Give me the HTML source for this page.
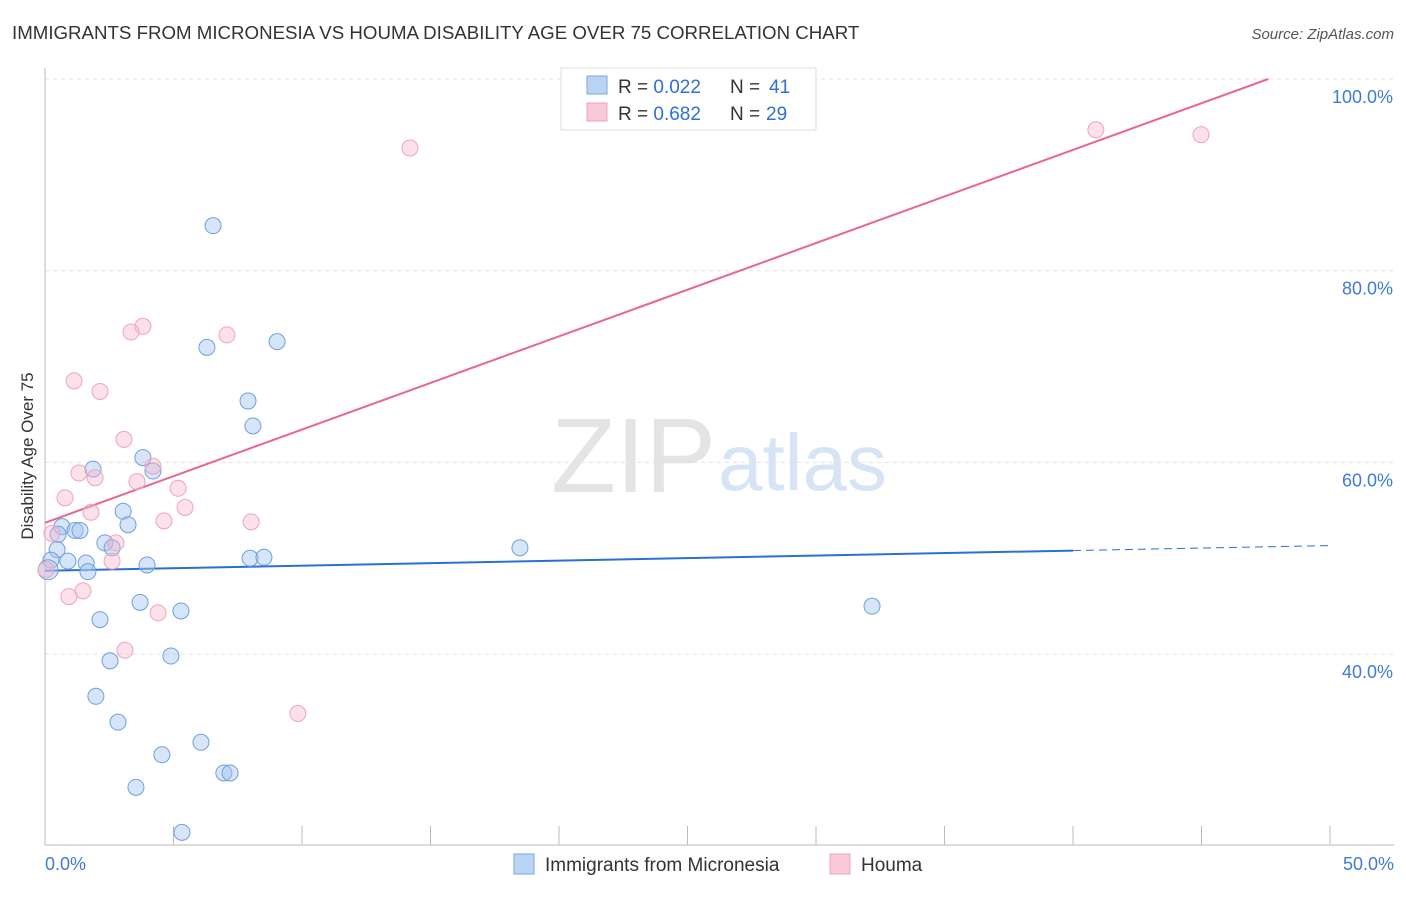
<!DOCTYPE html>
<html><head><meta charset="utf-8">
<style>
body{margin:0;background:#fff;font-family:"Liberation Sans",sans-serif;}
svg text{font-family:"Liberation Sans",sans-serif;}
</style></head>
<body>
<svg id="chart" width="1406" height="892" xmlns="http://www.w3.org/2000/svg">
<text x="12" y="39" font-size="18.7" fill="#333">IMMIGRANTS FROM MICRONESIA VS HOUMA DISABILITY AGE OVER 75 CORRELATION CHART</text>
<text x="1394" y="39" font-size="15" fill="#555" font-style="italic" text-anchor="end">Source: ZipAtlas.com</text>
<text x="716" y="492" font-size="106" fill="#e4e4e4" text-anchor="end" font-family="Liberation Serif">ZIP</text>
<text x="718" y="490" font-size="80" fill="#d6e4f5">atlas</text>
<g id="grid"></g>
<g id="axes"></g>
<g id="lines"></g>
<g id="dots"></g>
<text transform="translate(33,456) rotate(-90)" font-size="17" fill="#333" text-anchor="middle">Disability Age Over 75</text>
<g>
<rect x="561" y="68" width="255" height="62" fill="#fff" stroke="#ddd"/>
<rect x="587" y="76" width="20" height="18" fill="#b9d3f3" stroke="#7aa7e2"/>
<rect x="587" y="103" width="20" height="18" fill="#fac9d8" stroke="#f0a0bb"/>
<text x="618" y="93" font-size="19" fill="#333">R = <tspan fill="#2f6fd6">0.022</tspan></text>
<text x="730" y="93" font-size="19" fill="#333">N = <tspan x="769" fill="#2f6fd6">41</tspan></text>
<text x="618" y="120" font-size="19" fill="#333">R = <tspan fill="#2f6fd6">0.682</tspan></text>
<text x="730" y="120" font-size="19" fill="#333">N = <tspan x="766" fill="#2f6fd6">29</tspan></text>
</g>
<g>
<rect x="514" y="854" width="20" height="20" fill="#b9d3f3" stroke="#7aa7e2"/>
<text x="545" y="871" font-size="19" fill="#333">Immigrants from Micronesia</text>
<rect x="830" y="854" width="20" height="20" fill="#fac9d8" stroke="#f0a0bb"/>
<text x="861" y="871" font-size="19" fill="#333">Houma</text>
</g>
</svg>
<script>
const yTicks=[40,60,80,100];
const yTickLabels=["40.0%","60.0%","80.0%","100.0%"];
const xTicks=[0,5,10,15,20,25,30,35,40,45,50];
const blueX=[6.54,6.30,9.03,7.90,8.09,3.81,1.87,4.20,3.04,3.23,0.66,1.17,1.36,0.51,2.33,2.61,18.48,0.47,0.23,0.89,1.60,7.98,8.52,3.97,0.12,1.67,3.70,5.29,32.18,2.14,2.53,4.90,1.98,2.84,6.07,4.55,6.96,7.20,3.54,5.33];
const blueY=[84.7,72.0,72.6,66.4,63.8,60.5,59.3,59.1,54.9,53.5,53.3,52.9,52.9,52.5,51.6,51.1,51.1,50.9,49.8,49.7,49.5,50.0,50.1,49.3,48.8,48.6,45.4,44.5,45.0,43.6,39.3,39.8,35.6,32.9,30.8,29.5,27.6,27.6,26.1,21.4];
const pinkX=[14.20,40.89,44.98,3.81,3.35,7.08,1.13,2.14,3.07,1.32,1.95,4.20,3.58,5.18,0.78,5.45,1.79,4.63,8.02,0.27,2.76,2.61,0.04,1.48,0.93,4.40,3.11,9.84];
const pinkY=[92.8,94.7,94.2,74.2,73.6,73.3,68.5,67.4,62.4,58.9,58.4,59.6,58.0,57.3,56.3,55.3,54.8,53.9,53.8,52.6,51.6,49.7,48.8,46.6,46.0,44.3,40.4,33.8];
const blueTrend=[48.7,50.8]; // y at x=0 and x=40
const pinkTrend=[53.7,100]; // y at x=0 and x=47.6
const NS="http://www.w3.org/2000/svg";
const X=v=>45+v*25.7;
const Y=v=>79+(100-v)*9.585;
function mk(tag,attrs,parent){const e=document.createElementNS(NS,tag);for(const k in attrs)e.setAttribute(k,attrs[k]);document.getElementById(parent).appendChild(e);return e;}
yTicks.forEach((t,i)=>{
 const l=mk('line',{x1:45,x2:1394,y1:Y(t),y2:Y(t),stroke:'#e2e2e2','stroke-dasharray':'4,4'},'grid');
 
 
 const tx=mk('text',{x:1393,y:Y(t)+24,'font-size':18,fill:'#3f7bd8','text-anchor':'end'},'grid');
 tx.textContent=yTickLabels[i];
 
 
});
const ya=mk('line',{x1:45,x2:45,y1:68,y2:845,stroke:'#bbb'},'axes');


const xa=mk('line',{x1:45,x2:1394,y1:845,y2:845,stroke:'#bbb'},'axes');


xTicks.forEach(t=>{
 const l=mk('line',{x1:X(t),x2:X(t),y1:826,y2:845,stroke:'#bbb'},'axes');
 
 
});
const xl0=mk('text',{x:45,y:870,'font-size':18,fill:'#3f7bd8'},'axes');xl0.textContent='0.0%';


const xl1=mk('text',{x:1394,y:870,'font-size':18,fill:'#3f7bd8','text-anchor':'end'},'axes');xl1.textContent='50.0%';


blueX.forEach((v,i)=>{
 const c=mk('circle',{cx:X(v),cy:Y(blueY[i]),r:i==24?10:8,fill:'rgba(165,198,240,0.45)',stroke:'#6f9fe0','stroke-width':1},'dots');
 
 
});
pinkX.forEach((v,i)=>{
 const c=mk('circle',{cx:X(v),cy:Y(pinkY[i]),r:8,fill:'rgba(248,180,202,0.4)',stroke:'#f0a3bd','stroke-width':1},'dots');
 
 
});
const bs=(blueTrend[1]-blueTrend[0])/40;
const b1=mk('line',{x1:X(0),y1:Y(blueTrend[0]),x2:X(40),y2:Y(blueTrend[1]),stroke:'#2a6fd4','stroke-width':2},'lines');


const b2=mk('line',{x1:X(40),y1:Y(blueTrend[1]),x2:X(50),y2:Y(blueTrend[0]+bs*50),stroke:'#2a6fd4','stroke-width':1,'stroke-dasharray':'8,5'},'lines');


const p1=mk('line',{x1:X(0),y1:Y(pinkTrend[0]),x2:X(47.6),y2:Y(pinkTrend[1]),stroke:'#e8668f','stroke-width':2},'lines');


</script>
</body></html>
